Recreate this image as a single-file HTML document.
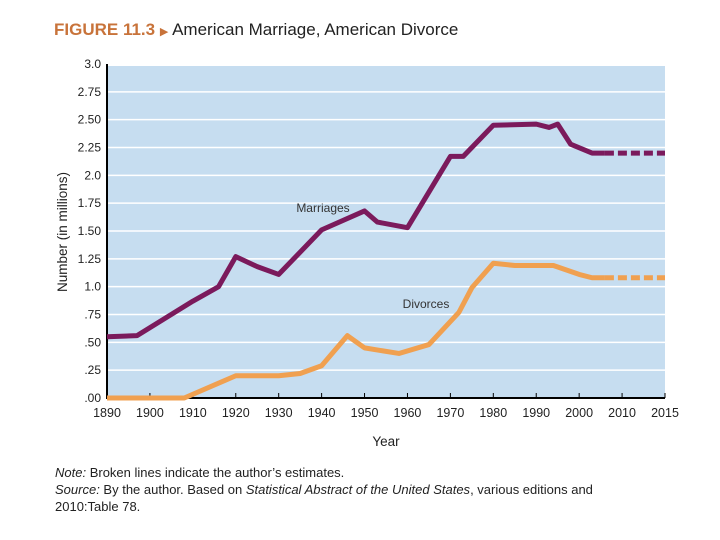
<!DOCTYPE html>
<html><head><meta charset="utf-8"><style>
body{margin:0;background:#fff;width:720px;height:540px;overflow:hidden;font-family:"Liberation Sans",sans-serif}
.t{position:absolute;white-space:nowrap}
</style></head><body>
<div class="t" style="left:54px;top:20px;font-size:17px;color:#222"><span style="color:#c8733a;font-weight:bold">FIGURE 11.3</span> <span style="color:#c8733a;font-size:11px">&#9654;</span> American Marriage, American Divorce</div>
<svg id="c" width="720" height="540" style="position:absolute;left:0;top:0"></svg>
<div class="t" style="left:55px;top:464px;font-size:13px;color:#222;line-height:17px"><i>Note:</i> Broken lines indicate the author’s estimates.<br><i>Source:</i> By the author. Based on <i>Statistical Abstract of the United States</i>, various editions and<br>2010:Table 78.</div>
<script>
const yTicks=[0,0.25,0.5,0.75,1.0,1.25,1.5,1.75,2.0,2.25,2.5,2.75,3.0];
const yTickLabels=[".00",".25",".50",".75","1.0","1.25","1.50","1.75","2.0","2.25","2.50","2.75","3.0"];
const xTicks=[1890,1900,1910,1920,1930,1940,1950,1960,1970,1980,1990,2000,2010,2015];
const marriageYears=[1890,1897,1910,1916,1920,1925,1930,1940,1950,1953,1960,1970,1973,1980,1990,1993,1995,1998,2003,2006];
const marriageValues=[0.55,0.56,0.87,1.0,1.27,1.18,1.11,1.51,1.68,1.58,1.53,2.17,2.17,2.45,2.46,2.43,2.46,2.28,2.20,2.20];
const marriageEstYears=[2006,2015];
const marriageEstValues=[2.20,2.20];
const divorceYears=[1890,1908,1920,1930,1935,1940,1946,1950,1958,1965,1972,1975,1980,1985,1994,2000,2003,2006];
const divorceValues=[0,0,0.20,0.20,0.22,0.29,0.56,0.45,0.40,0.48,0.77,0.99,1.21,1.19,1.19,1.11,1.08,1.08];
const divorceEstYears=[2006,2015];
const divorceEstValues=[1.08,1.08];
const L=107,R=665,T=64,B=398,step=(R-L)/13;
function x(yr){return yr<=2010?L+(yr-1890)/10*step:L+12*step+(yr-2010)/5*step;}
function y(v){return B-v/3*(B-T);}
const s=document.getElementById('c'),NS='http://www.w3.org/2000/svg';
function el(t,a,p){const e=document.createElementNS(NS,t);for(const k in a)e.setAttribute(k,a[k]);(p||s).appendChild(e);return e;}
let e=el('rect',{x:L,y:T+2,width:R-L,height:B-T-2,fill:'#c6ddf0'});


yTicks.forEach((v,i)=>{
 if(v>0&&v<3){e=el('line',{x1:L,x2:R,y1:y(v),y2:y(v),stroke:'#fff','stroke-width':1.5});
 
 }
 e=el('text',{x:L-6,y:y(v)+4,'text-anchor':'end','font-size':12,fill:'#222'});e.textContent=yTickLabels[i];
 
 
});
xTicks.forEach(yr=>{
 e=el('line',{x1:x(yr),x2:x(yr),y1:B-5,y2:B,stroke:'#000'});
 
 
 e=el('text',{x:x(yr),y:B+19,'text-anchor':'middle','font-size':12.5,fill:'#222'});e.textContent=yr;
 
 
});
e=el('path',{d:`M${L},${T}V${B}H${R}`,fill:'none',stroke:'#000','stroke-width':2});


function line(xs,vs,col,name,dash){
 const e=el('polyline',{points:xs.map((a,i)=>x(a)+','+y(vs[i])).join(' '),fill:'none',stroke:col,'stroke-width':5,'stroke-linejoin':'round'});
 if(dash)e.setAttribute('stroke-dasharray','9,4');
 
 
}
line(marriageYears,marriageValues,'#7b1a5c','marriages-line');
line(marriageEstYears,marriageEstValues,'#7b1a5c','marriages-estimate-line',true);
line(divorceYears,divorceValues,'#f0a050','divorces-line');
line(divorceEstYears,divorceEstValues,'#f0a050','divorces-estimate-line',true);
e=el('text',{x:323,y:212,'text-anchor':'middle','font-size':12,fill:'#333'});e.textContent='Marriages';


e=el('text',{x:426,y:308,'text-anchor':'middle','font-size':12,fill:'#333'});e.textContent='Divorces';


e=el('text',{x:386,y:446,'text-anchor':'middle','font-size':13.5,fill:'#222'});e.textContent='Year';


e=el('text',{x:67,y:232,'text-anchor':'middle','font-size':13.5,fill:'#222',transform:'rotate(-90 67 232)'});e.textContent='Number (in millions)';


</script>
</body></html>
